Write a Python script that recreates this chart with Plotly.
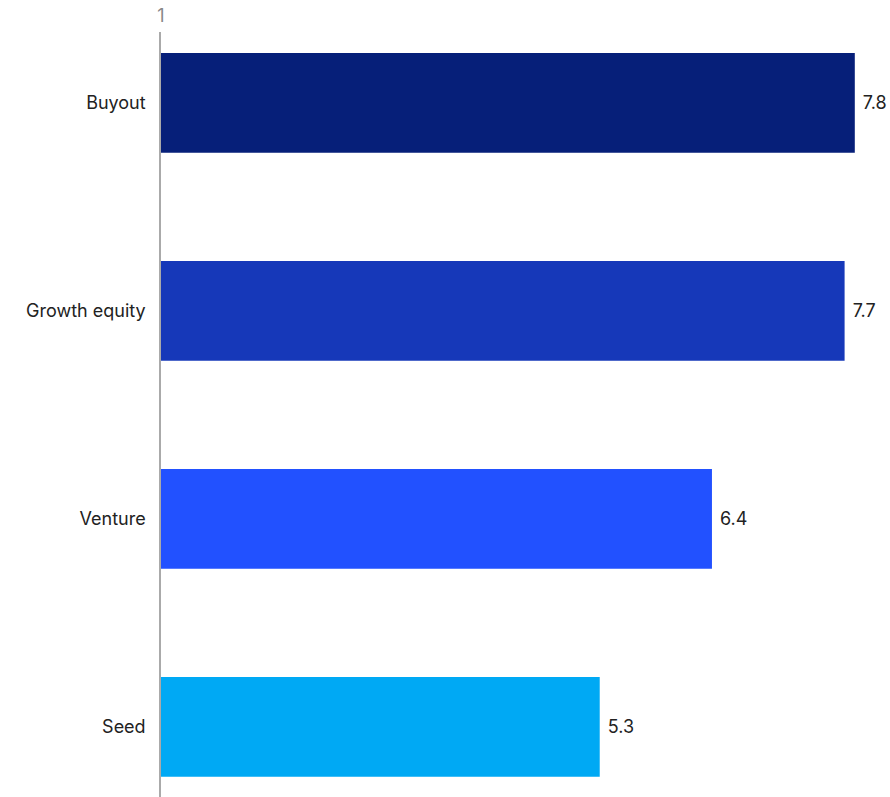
import plotly.graph_objects as go

categories = ["Buyout", "Growth equity", "Venture", "Seed"]
values = [7.8, 7.7, 6.4, 5.3]
value_labels = ["7.8", "7.7", "6.4", "5.3"]
colors = ["#061F79", "#1638B9", "#2251FF", "#00A9F4"]
x_tick_vals = [1]
x_tick_text = ["1"]

fig = go.Figure(
    go.Bar(
        y=categories,
        x=[v - 1 for v in values],
        base=1,
        orientation="h",
        marker=dict(color=colors, line=dict(width=0)),
        width=0.48,
        text=[" " + t for t in value_labels],
        textposition="outside",
        cliponaxis=False,
        constraintext="none",
        textfont=dict(family="Inter, Roboto, sans-serif", size=18, color="#222222"),
        hoverinfo="skip",
    )
)

fig.update_layout(
    width=890,
    height=797,
    margin=dict(l=161, r=0, t=32, b=0),
    paper_bgcolor="white",
    plot_bgcolor="white",
    showlegend=False,
    font=dict(family="Inter, Roboto, sans-serif", size=18, color="#222222"),
    xaxis=dict(
        range=[1, 8.145],
        side="top",
        tickvals=x_tick_vals,
        ticktext=x_tick_text,
        tickfont=dict(size=18, color="#888888"),
        ticklabelstandoff=5,
        automargin=False,
        showgrid=False,
        zeroline=False,
        showline=False,
        ticks="",
    ),
    yaxis=dict(
        categoryorder="array",
        categoryarray=categories,
        range=[3.337, -0.341],
        showline=True,
        linecolor="#aaaaaa",
        linewidth=1.5,
        showgrid=False,
        zeroline=False,
        ticks="",
        ticklabelstandoff=10,
        automargin=False,
        tickfont=dict(size=18, color="#222222"),
    ),
)

fig.write_html(
    "out.html",
    config={"displayModeBar": False},
    post_script="document.body.style.margin='0';document.body.style.overflow='hidden';",
)
